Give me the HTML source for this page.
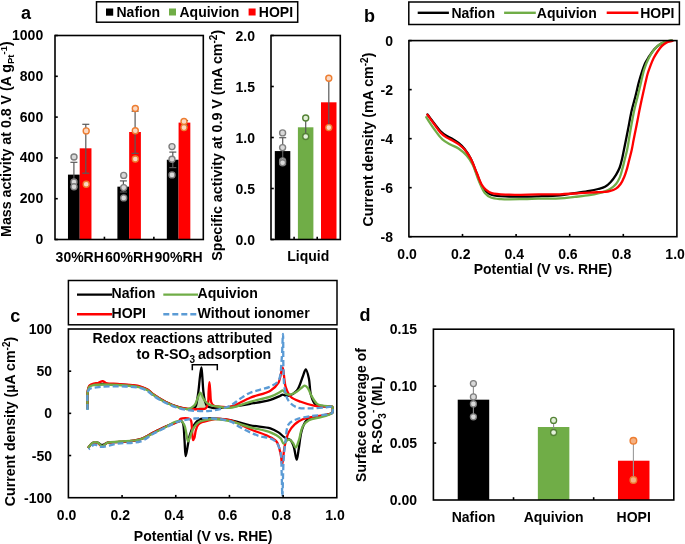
<!DOCTYPE html>
<html><head><meta charset="utf-8"><title>Figure</title><style>
html,body{margin:0;padding:0;background:#fff;width:685px;height:544px;overflow:hidden;}
svg{display:block;will-change:transform;}
text{font-family:"Liberation Sans",sans-serif;font-weight:bold;fill:#000;}
</style></head><body>
<svg width="685" height="544" viewBox="0 0 685 544">
<text x="21" y="18.5" font-size="18" text-anchor="start">a</text>
<rect x="96.5" y="1.8" width="201.2" height="20.4" fill="none" stroke="#000" stroke-width="1.5"/>
<rect x="106" y="8.5" width="7.2" height="7.2" fill="#000" stroke="none" stroke-width="0"/>
<rect x="169" y="8.5" width="7" height="7" fill="#70ad47" stroke="none" stroke-width="0"/>
<rect x="248.6" y="8.5" width="7" height="7" fill="#ff0000" stroke="none" stroke-width="0"/>
<text x="116.5" y="16.8" font-size="14" text-anchor="start">Nafion</text>
<text x="179.5" y="16.8" font-size="14" text-anchor="start">Aquivion</text>
<text x="258.8" y="16.8" font-size="14" text-anchor="start">HOPI</text>
<rect x="67.97" y="174.63" width="11.75" height="64.87" fill="#000" stroke="none" stroke-width="0"/>
<rect x="79.72" y="148.31" width="11.75" height="91.19" fill="#ff0000" stroke="none" stroke-width="0"/>
<rect x="117.4" y="186.66" width="11.75" height="52.84" fill="#000" stroke="none" stroke-width="0"/>
<rect x="129.15" y="131.99" width="11.75" height="107.51" fill="#ff0000" stroke="none" stroke-width="0"/>
<rect x="166.83" y="159.74" width="11.75" height="79.76" fill="#000" stroke="none" stroke-width="0"/>
<rect x="178.58" y="122.61" width="11.75" height="116.89" fill="#ff0000" stroke="none" stroke-width="0"/>
<line x1="73.9" y1="162.3" x2="73.9" y2="187.1" stroke="#595959" stroke-width="1.2"/>
<line x1="70.4" y1="162.3" x2="77.4" y2="162.3" stroke="#595959" stroke-width="1.2"/>
<line x1="70.4" y1="187.1" x2="77.4" y2="187.1" stroke="#595959" stroke-width="1.2"/>
<line x1="85.8" y1="124.3" x2="85.8" y2="173.2" stroke="#595959" stroke-width="1.2"/>
<line x1="82.3" y1="124.3" x2="89.3" y2="124.3" stroke="#595959" stroke-width="1.2"/>
<line x1="82.3" y1="173.2" x2="89.3" y2="173.2" stroke="#595959" stroke-width="1.2"/>
<line x1="123.4" y1="180.9" x2="123.4" y2="192" stroke="#595959" stroke-width="1.2"/>
<line x1="119.9" y1="180.9" x2="126.9" y2="180.9" stroke="#595959" stroke-width="1.2"/>
<line x1="119.9" y1="192" x2="126.9" y2="192" stroke="#595959" stroke-width="1.2"/>
<line x1="135.1" y1="111.2" x2="135.1" y2="153.4" stroke="#595959" stroke-width="1.2"/>
<line x1="131.6" y1="111.2" x2="138.6" y2="111.2" stroke="#595959" stroke-width="1.2"/>
<line x1="131.6" y1="153.4" x2="138.6" y2="153.4" stroke="#595959" stroke-width="1.2"/>
<line x1="172.8" y1="152.1" x2="172.8" y2="167.6" stroke="#595959" stroke-width="1.2"/>
<line x1="169.3" y1="152.1" x2="176.3" y2="152.1" stroke="#595959" stroke-width="1.2"/>
<line x1="169.3" y1="167.6" x2="176.3" y2="167.6" stroke="#595959" stroke-width="1.2"/>
<line x1="184.6" y1="120.6" x2="184.6" y2="125.2" stroke="#595959" stroke-width="1.2"/>
<line x1="181.1" y1="120.6" x2="188.1" y2="120.6" stroke="#595959" stroke-width="1.2"/>
<line x1="181.1" y1="125.2" x2="188.1" y2="125.2" stroke="#595959" stroke-width="1.2"/>
<circle cx="74" cy="157" r="3" fill="#d9d9d9" stroke="#7f7f7f" stroke-width="1.4"/>
<circle cx="74" cy="182" r="3" fill="#d9d9d9" stroke="#7f7f7f" stroke-width="1.4"/>
<circle cx="74" cy="186.8" r="3" fill="#d9d9d9" stroke="#7f7f7f" stroke-width="1.4"/>
<circle cx="123.7" cy="175.4" r="3" fill="#d9d9d9" stroke="#7f7f7f" stroke-width="1.4"/>
<circle cx="123.7" cy="187.6" r="3" fill="#d9d9d9" stroke="#7f7f7f" stroke-width="1.4"/>
<circle cx="123.7" cy="197.9" r="3" fill="#d9d9d9" stroke="#7f7f7f" stroke-width="1.4"/>
<circle cx="172" cy="146.6" r="3" fill="#d9d9d9" stroke="#7f7f7f" stroke-width="1.4"/>
<circle cx="172" cy="159.3" r="3" fill="#d9d9d9" stroke="#7f7f7f" stroke-width="1.4"/>
<circle cx="172" cy="174.9" r="3" fill="#d9d9d9" stroke="#7f7f7f" stroke-width="1.4"/>
<circle cx="86.2" cy="130.9" r="3" fill="#fbd9c3" stroke="#ed7d31" stroke-width="1.4"/>
<circle cx="86.2" cy="184.3" r="3" fill="#fbd9c3" stroke="#ed7d31" stroke-width="1.4"/>
<circle cx="135.3" cy="108.5" r="3" fill="#fbd9c3" stroke="#ed7d31" stroke-width="1.4"/>
<circle cx="135.3" cy="130.7" r="3" fill="#fbd9c3" stroke="#ed7d31" stroke-width="1.4"/>
<circle cx="135.3" cy="159" r="3" fill="#fbd9c3" stroke="#ed7d31" stroke-width="1.4"/>
<circle cx="184" cy="121.5" r="3" fill="#fbd9c3" stroke="#ed7d31" stroke-width="1.4"/>
<circle cx="184" cy="127.6" r="3" fill="#fbd9c3" stroke="#ed7d31" stroke-width="1.4"/>
<rect x="55" y="35.5" width="148.3" height="204" fill="none" stroke="#000" stroke-width="1.6"/>
<line x1="55" y1="239.5" x2="57.8" y2="239.5" stroke="#000" stroke-width="1.6"/>
<text x="43.2" y="244" font-size="14" text-anchor="end">0</text>
<line x1="55" y1="198.7" x2="57.8" y2="198.7" stroke="#000" stroke-width="1.6"/>
<text x="43.2" y="203.2" font-size="14" text-anchor="end">200</text>
<line x1="55" y1="157.9" x2="57.8" y2="157.9" stroke="#000" stroke-width="1.6"/>
<text x="43.2" y="162.4" font-size="14" text-anchor="end">400</text>
<line x1="55" y1="117.1" x2="57.8" y2="117.1" stroke="#000" stroke-width="1.6"/>
<text x="43.2" y="121.6" font-size="14" text-anchor="end">600</text>
<line x1="55" y1="76.3" x2="57.8" y2="76.3" stroke="#000" stroke-width="1.6"/>
<text x="43.2" y="80.8" font-size="14" text-anchor="end">800</text>
<line x1="55" y1="35.5" x2="57.8" y2="35.5" stroke="#000" stroke-width="1.6"/>
<text x="43.2" y="40" font-size="14" text-anchor="end">1000</text>
<line x1="104.43" y1="239.5" x2="104.43" y2="236.7" stroke="#000" stroke-width="1.6"/>
<line x1="153.87" y1="239.5" x2="153.87" y2="236.7" stroke="#000" stroke-width="1.6"/>
<text x="79.72" y="262" font-size="14" text-anchor="middle">30%RH</text>
<text x="129.15" y="262" font-size="14" text-anchor="middle">60%RH</text>
<text x="178.58" y="262" font-size="14" text-anchor="middle">90%RH</text>
<text transform="translate(11.3,139.1) rotate(-90)" font-size="14.2" text-anchor="middle">Mass activity at 0.8 V (A g<tspan font-size="9.5" dy="3">Pt</tspan><tspan font-size="9.5" dy="-7.5">-1</tspan><tspan dy="4.5">)</tspan></text>
<rect x="274.8" y="151.07" width="15.5" height="88.43" fill="#000" stroke="none" stroke-width="0"/>
<rect x="297.9" y="127.3" width="15.5" height="112.2" fill="#70ad47" stroke="none" stroke-width="0"/>
<rect x="321" y="102.31" width="15.5" height="137.19" fill="#ff0000" stroke="none" stroke-width="0"/>
<line x1="282.7" y1="137.7" x2="282.7" y2="164.5" stroke="#595959" stroke-width="1.2"/>
<line x1="279.2" y1="137.7" x2="286.2" y2="137.7" stroke="#595959" stroke-width="1.2"/>
<line x1="279.2" y1="164.5" x2="286.2" y2="164.5" stroke="#595959" stroke-width="1.2"/>
<line x1="305.7" y1="118" x2="305.7" y2="136.5" stroke="#595959" stroke-width="1.2"/>
<line x1="328.8" y1="78.2" x2="328.8" y2="127.6" stroke="#595959" stroke-width="1.2"/>
<circle cx="282.6" cy="132.9" r="3" fill="#d9d9d9" stroke="#7f7f7f" stroke-width="1.4"/>
<circle cx="282.6" cy="147.6" r="3" fill="#d9d9d9" stroke="#7f7f7f" stroke-width="1.4"/>
<circle cx="282.6" cy="160.9" r="3" fill="#d9d9d9" stroke="#7f7f7f" stroke-width="1.4"/>
<circle cx="282.6" cy="162.8" r="3" fill="#d9d9d9" stroke="#7f7f7f" stroke-width="1.4"/>
<circle cx="305.7" cy="118" r="3" fill="#e2f0d9" stroke="#548235" stroke-width="1.4"/>
<circle cx="305.7" cy="136.5" r="3" fill="#e2f0d9" stroke="#548235" stroke-width="1.4"/>
<circle cx="328.8" cy="78.2" r="3" fill="#fbd9c3" stroke="#ed7d31" stroke-width="1.4"/>
<circle cx="328.8" cy="127.6" r="3" fill="#fbd9c3" stroke="#ed7d31" stroke-width="1.4"/>
<rect x="271" y="35.5" width="69.3" height="204" fill="none" stroke="#000" stroke-width="1.6"/>
<line x1="271" y1="239.5" x2="273.8" y2="239.5" stroke="#000" stroke-width="1.6"/>
<text x="255" y="244.5" font-size="14" text-anchor="end">0.0</text>
<line x1="271" y1="188.5" x2="273.8" y2="188.5" stroke="#000" stroke-width="1.6"/>
<text x="255" y="193.5" font-size="14" text-anchor="end">0.5</text>
<line x1="271" y1="137.5" x2="273.8" y2="137.5" stroke="#000" stroke-width="1.6"/>
<text x="255" y="142.5" font-size="14" text-anchor="end">1.0</text>
<line x1="271" y1="86.5" x2="273.8" y2="86.5" stroke="#000" stroke-width="1.6"/>
<text x="255" y="91.5" font-size="14" text-anchor="end">1.5</text>
<line x1="271" y1="35.5" x2="273.8" y2="35.5" stroke="#000" stroke-width="1.6"/>
<text x="255" y="40.5" font-size="14" text-anchor="end">2.0</text>
<line x1="294.1" y1="239.5" x2="294.1" y2="236.7" stroke="#000" stroke-width="1.6"/>
<line x1="317.2" y1="239.5" x2="317.2" y2="236.7" stroke="#000" stroke-width="1.6"/>
<text x="308.3" y="261" font-size="14" text-anchor="middle">Liquid</text>
<text transform="translate(222,145.3) rotate(-90)" font-size="14.25" text-anchor="middle">Specific activity at 0.9 V (mA cm<tspan font-size="10" dy="-5.5">-2</tspan><tspan dy="5.5">)</tspan></text>
<text x="364" y="22" font-size="18" text-anchor="start">b</text>
<rect x="408.8" y="2" width="270.6" height="22.5" fill="none" stroke="#000" stroke-width="1.5"/>
<line x1="417.7" y1="12.8" x2="448.9" y2="12.8" stroke="#000" stroke-width="2.4"/>
<text x="451.4" y="17.6" font-size="14" text-anchor="start">Nafion</text>
<line x1="504.1" y1="12.8" x2="535.8" y2="12.8" stroke="#70ad47" stroke-width="2.4"/>
<text x="536.8" y="17.6" font-size="14" text-anchor="start">Aquivion</text>
<line x1="606.7" y1="12.8" x2="638.4" y2="12.8" stroke="#ff0000" stroke-width="2.4"/>
<text x="640.2" y="17.6" font-size="14" text-anchor="start">HOPI</text>
<path d="M427.5,114.5 C429.77,117.5 432.08,120.65 434.3,123.5 C436.34,126.13 438.16,128.88 440.3,131 C442.22,132.91 444.3,134.44 446.4,135.8 C448.38,137.08 450.51,137.82 452.5,139 C454.54,140.21 456.56,141.43 458.5,143 C460.61,144.71 462.69,146.64 464.6,149 C466.8,151.72 468.83,154.95 470.7,158.6 C472.93,162.93 474.78,168.75 476.7,173.5 C478.46,177.85 479.95,182.77 481.8,186 C483.12,188.31 484.3,190 486,191.5 C487.7,193 489.36,194.16 492,195 C496.15,196.32 502.71,196.24 509.2,196.5 C517.65,196.84 529.4,196.52 538.4,196.3 C546.14,196.11 553.51,196.02 560,195.4 C565.39,194.89 569.8,193.93 574.7,193.2 C579.6,192.47 585.14,191.8 589.4,191 C592.72,190.38 595.47,189.75 598.2,189 C600.63,188.33 602.95,187.93 605,186.8 C607.05,185.67 608.77,184.03 610.5,182.2 C612.46,180.12 614.44,177.33 616,174.8 C617.47,172.42 618.71,170.06 619.7,167.5 C620.72,164.87 621.31,162.05 622,159.2 C622.72,156.22 623.16,153.66 623.9,150 C624.99,144.61 626.58,136.67 627.9,130 C629.22,123.33 630.41,116.05 631.8,110 C632.97,104.9 634.32,100.64 635.5,96 C636.66,91.44 637.64,86.69 638.8,82.4 C639.85,78.5 640.92,74.76 642.1,71.3 C643.17,68.17 644.26,65.04 645.5,62.5 C646.53,60.4 647.52,58.97 648.8,57 C650.36,54.6 652.22,51.46 654.3,49.2 C656.28,47.06 658.48,45.07 660.9,43.7 C663.26,42.36 666.53,41.45 668.6,41 C669.94,40.71 670.87,40.8 672,40.7" fill="none" stroke="#000" stroke-width="2.3" stroke-linejoin="round" stroke-linecap="round"/>
<path d="M426.2,117.2 C428.9,121.23 431.52,125.5 434.3,129.3 C436.93,132.88 439.48,136.78 442.4,139.4 C444.9,141.65 447.68,142.97 450.4,144.5 C453.05,145.99 455.91,146.77 458.5,148.5 C461.33,150.39 464.24,152.91 466.6,155.6 C468.98,158.31 470.85,161.11 472.7,164.7 C475.02,169.22 476.64,175.94 478.8,180.9 C480.7,185.28 482.39,190.13 484.8,193 C486.6,195.15 488.47,196.48 490.9,197.5 C493.73,198.68 496.94,198.78 501,199.1 C507.06,199.58 517.04,199.22 523.8,199.1 C529.21,199.01 533.06,198.72 538.4,198.6 C544.9,198.46 553.5,198.76 560,198.4 C565.38,198.1 569.8,197.43 574.7,196.9 C579.6,196.37 585.03,195.91 589.4,195.2 C592.95,194.63 596.19,193.91 599,193.2 C601.25,192.63 603.07,192.14 605,191.4 C606.9,190.67 608.74,189.95 610.5,188.8 C612.42,187.54 614.47,185.86 616,184 C617.54,182.13 618.66,179.99 619.7,177.6 C620.89,174.87 621.65,171.48 622.5,168.4 C623.35,165.34 624.03,162.27 624.8,159.2 C625.57,156.13 626.33,153.67 627.1,150 C628.23,144.63 629.3,136.66 630.5,130 C631.7,123.33 632.97,116.06 634.3,110 C635.42,104.9 636.67,100.64 637.8,96 C638.91,91.44 639.91,86.9 641,82.4 C642.08,77.94 643,73.17 644.3,69.1 C645.45,65.52 646.67,62.29 648.2,59.2 C649.66,56.25 651.24,53.4 653.2,50.9 C655.12,48.44 657.25,45.98 659.8,44.3 C662.37,42.61 666.32,41.31 668.6,40.8 C669.97,40.5 670.87,40.67 672,40.6" fill="none" stroke="#70ad47" stroke-width="2.3" stroke-linejoin="round" stroke-linecap="round"/>
<path d="M427.5,114.8 C429.77,117.97 432.09,121.27 434.3,124.3 C436.35,127.12 438.14,130.13 440.3,132.4 C442.21,134.41 444.29,136.04 446.4,137.4 C448.36,138.66 450.5,139.3 452.5,140.4 C454.54,141.52 456.55,142.65 458.5,144.1 C460.59,145.65 462.7,147.32 464.6,149.5 C466.81,152.03 468.83,155.13 470.7,158.6 C472.92,162.72 474.78,168.26 476.7,172.8 C478.47,176.99 479.95,181.9 481.8,184.9 C483.07,186.95 484.21,188.24 485.8,189.6 C487.48,191.04 489.08,192.34 491.7,193.2 C495.88,194.57 502.62,194.45 509.2,194.7 C517.69,195.02 529.4,194.47 538.4,194.4 C546.14,194.34 553.49,194.49 560,194.3 C565.37,194.14 569.8,193.78 574.7,193.5 C579.6,193.22 585.15,192.83 589.4,192.6 C592.65,192.43 595.28,192.32 598,192.2 C600.45,192.09 602.92,192.1 605,191.9 C606.7,191.73 607.97,191.65 609.6,191.2 C611.59,190.65 614.15,189.83 616,188.6 C617.8,187.41 619.27,185.83 620.6,184 C622.09,181.94 623.23,179.25 624.3,176.7 C625.41,174.06 626.26,171.26 627.1,168.4 C627.97,165.43 628.63,162.27 629.4,159.2 C630.17,156.13 631.01,153.14 631.7,150 C632.42,146.75 632.95,143.33 633.6,140 C634.25,136.67 634.93,133.33 635.6,130 C636.27,126.67 636.95,123.33 637.6,120 C638.25,116.67 638.83,113.33 639.5,110 C640.17,106.66 640.88,103.33 641.6,100 C642.32,96.66 643.1,93.15 643.8,90 C644.43,87.18 644.96,84.7 645.6,82 C646.26,79.21 646.88,76.24 647.7,73.5 C648.49,70.85 649.41,68.35 650.4,65.8 C651.41,63.22 652.47,60.53 653.7,58.1 C654.88,55.78 656.19,53.57 657.6,51.5 C658.96,49.51 660.43,47.44 662,45.9 C663.38,44.55 664.72,43.41 666.4,42.6 C668.19,41.73 670.47,41.53 672.5,41" fill="none" stroke="#ff0000" stroke-width="2.3" stroke-linejoin="round" stroke-linecap="round"/>
<rect x="408.9" y="40.6" width="268" height="196.1" fill="none" stroke="#000" stroke-width="1.6"/>
<line x1="408.9" y1="40.6" x2="411.7" y2="40.6" stroke="#000" stroke-width="1.6"/>
<text x="393" y="45.6" font-size="14" text-anchor="end">0</text>
<line x1="408.9" y1="89.62" x2="411.7" y2="89.62" stroke="#000" stroke-width="1.6"/>
<text x="393" y="94.62" font-size="14" text-anchor="end">-2</text>
<line x1="408.9" y1="138.65" x2="411.7" y2="138.65" stroke="#000" stroke-width="1.6"/>
<text x="393" y="143.65" font-size="14" text-anchor="end">-4</text>
<line x1="408.9" y1="187.67" x2="411.7" y2="187.67" stroke="#000" stroke-width="1.6"/>
<text x="393" y="192.67" font-size="14" text-anchor="end">-6</text>
<line x1="408.9" y1="236.7" x2="411.7" y2="236.7" stroke="#000" stroke-width="1.6"/>
<text x="393" y="241.7" font-size="14" text-anchor="end">-8</text>
<text x="407.1" y="259" font-size="14" text-anchor="middle">0.0</text>
<line x1="462.5" y1="236.7" x2="462.5" y2="233.9" stroke="#000" stroke-width="1.6"/>
<text x="460.7" y="259" font-size="14" text-anchor="middle">0.2</text>
<line x1="516.1" y1="236.7" x2="516.1" y2="233.9" stroke="#000" stroke-width="1.6"/>
<text x="514.3" y="259" font-size="14" text-anchor="middle">0.4</text>
<line x1="569.7" y1="236.7" x2="569.7" y2="233.9" stroke="#000" stroke-width="1.6"/>
<text x="567.9" y="259" font-size="14" text-anchor="middle">0.6</text>
<line x1="623.3" y1="236.7" x2="623.3" y2="233.9" stroke="#000" stroke-width="1.6"/>
<text x="621.5" y="259" font-size="14" text-anchor="middle">0.8</text>
<text x="675.1" y="259" font-size="14" text-anchor="middle">1.0</text>
<text x="542.9" y="274" font-size="14" text-anchor="middle">Potential (V vs. RHE)</text>
<text transform="translate(373.4,139.6) rotate(-90)" font-size="14.2" text-anchor="middle">Current density (mA cm<tspan font-size="10" dy="-5.5">-2</tspan><tspan dy="5.5">)</tspan></text>
<text x="10.2" y="322.2" font-size="18" text-anchor="start">c</text>
<rect x="68.4" y="280.5" width="268.6" height="44.3" fill="none" stroke="#000" stroke-width="1.5"/>
<line x1="77" y1="294.6" x2="112" y2="294.6" stroke="#000" stroke-width="2.4"/>
<text x="111.5" y="298" font-size="14.1" text-anchor="start">Nafion</text>
<line x1="163.3" y1="294.6" x2="198" y2="294.6" stroke="#70ad47" stroke-width="2.4"/>
<text x="197.5" y="298" font-size="14.1" text-anchor="start">Aquivion</text>
<line x1="77" y1="314.2" x2="112" y2="314.2" stroke="#ff0000" stroke-width="2.4"/>
<text x="111.5" y="317.6" font-size="14.1" text-anchor="start">HOPI</text>
<line x1="163.3" y1="314.2" x2="198" y2="314.2" stroke="#5b9bd5" stroke-width="2.4" stroke-dasharray="6,3"/>
<text x="197.5" y="317.6" font-size="14.15" text-anchor="start">Without ionomer</text>
<path d="M194.7,405 L197.6,398.3 L200.4,393.5 L203.3,398.3 L207.1,403.1 L207.5,408 L194.5,408 Z" fill="#c5e0b4"/>
<path d="M87.5,409 C87.6,403.33 87.18,396.19 87.8,392 C88.18,389.46 88.34,387.24 89.5,386 C90.48,384.95 91.68,384.85 93.7,384.5 C98.37,383.69 109.71,384.07 117.6,384.5 C125.38,384.92 135.23,385.61 140.7,387 C143.89,387.81 145.9,388.7 148,390 C149.91,391.18 150.79,392.76 152.9,394.3 C156.1,396.63 161.41,399.82 165.8,402 C170.02,404.09 174.34,406 178.7,407.2 C182.91,408.36 188.5,409.85 191.5,409.2 C193.35,408.8 194.67,407.83 195.6,406.5 C196.67,404.97 196.65,402.53 197.1,400.2 C197.64,397.37 198.06,394.2 198.5,390.7 C199.04,386.4 199.45,380.53 200,376.3 C200.44,372.94 201.02,367.29 201.4,367.3 C201.78,367.31 202.02,372.95 202.3,376.3 C202.66,380.54 202.84,386.41 203.3,390.7 C203.68,394.2 203.94,397.46 204.7,400.2 C205.31,402.41 205.78,404.73 207.1,406 C208.3,407.15 210.13,407.44 212,407.8 C214.31,408.24 217.19,408.13 220,408 C223.15,407.85 226.09,407.32 230,406.8 C235.57,406.05 243.48,404.96 250.2,403.8 C256.95,402.63 264.96,401.4 270.4,399.8 C274.25,398.67 277.82,396.97 280,396 C281.15,395.48 281.74,394.76 282.6,394.7 C283.4,394.64 284.11,395.33 285,395.5 C286.07,395.7 287.22,396.05 288.6,395.7 C290.84,395.13 294.49,393.27 296.7,390.7 C299.52,387.43 301.13,380.42 302.8,376.5 C303.98,373.73 304.84,369.37 305.8,369.4 C306.88,369.44 308.09,374.98 308.9,378.5 C309.95,383.08 309.65,390.15 310.9,394.7 C311.88,398.25 312.81,401.94 314.9,403.8 C316.7,405.41 319.62,405.57 322,406 C324.32,406.42 327.1,406.23 329,406.4 C330.31,406.52 331.68,406.22 332.3,406.8 C332.86,407.33 332.78,408.55 332.8,409.5 C332.82,410.54 332.91,412.02 332.3,412.8 C331.67,413.61 330.47,413.71 329,414.2 C326.27,415.11 320.83,416.16 317,417.2 C313.45,418.16 309.32,418.08 306.8,420.2 C304.2,422.38 303.08,426.33 301.8,430.3 C300.16,435.38 299.74,443.17 298.8,448.5 C298.06,452.69 297.5,459.68 296.7,459.7 C295.82,459.72 294.94,450 293.7,446.5 C292.82,444.02 292.22,441.92 290.7,440.4 C289.18,438.88 286.56,438.66 284.6,437.4 C282.49,436.04 280.77,433.88 278.5,432.4 C276.07,430.82 273.82,429.39 270.4,428.3 C265.28,426.67 256.9,426.64 250.2,425.3 C243.43,423.95 236.76,421.33 230,420.2 C223.36,419.09 215.39,418.61 210,418.5 C206.35,418.42 203.09,418.18 200.8,418.9 C199.24,419.39 198.33,420.19 197.2,421.2 C195.87,422.39 194.61,423.9 193.5,425.8 C192.06,428.26 190.72,431.89 189.8,435 C188.9,438.02 188.63,440.93 188,444.2 C187.28,447.93 186.27,456.23 185.7,456.2 C185.04,456.16 184.96,445.46 184.5,440 C184.03,434.4 184.14,425.91 182.9,423 C182.39,421.8 181.75,421.03 181,420.8 C180.33,420.59 179.76,421.05 178.7,421.4 C176.13,422.24 170.06,424.6 165.8,426.5 C161.46,428.43 157.2,430.75 152.9,432.9 C148.6,435.05 144.94,437.9 140,439.4 C134.09,441.19 125.4,441.34 119.5,441.9 C115.03,442.32 110.9,441.98 107.7,442.7 C105.38,443.23 103.64,445.12 101.9,445 C100.39,444.9 99.29,443.09 97.8,442.7 C96.26,442.3 94.32,442.03 92.8,442.7 C90.99,443.5 89.6,446.23 88,448" fill="none" stroke="#000" stroke-width="2.3" stroke-linejoin="round" stroke-linecap="butt"/>
<path d="M87.5,409 C87.6,402.67 87.02,394.1 87.8,390 C88.19,387.94 88.5,386.59 89.5,385.5 C90.48,384.43 92.26,383.92 93.7,383.5 C95.09,383.1 96.56,383.35 98,383 C99.56,382.62 101.29,381.11 102.7,381.2 C103.92,381.28 104.5,382.55 106,383 C108.64,383.79 113.67,383.67 117.6,384 C121.66,384.34 126.03,384.56 130,385 C133.7,385.41 137.53,385.58 140.7,386.5 C143.43,387.29 145.89,388.46 148,389.8 C149.89,391 150.8,392.47 152.9,394 C156.11,396.35 161.4,399.77 165.8,402 C170.01,404.13 174.34,406 178.7,407.2 C182.91,408.36 187.66,408.95 191.5,409.2 C194.61,409.4 197.48,409.14 200,409 C202.03,408.88 204.19,409.34 205.5,408.5 C206.7,407.73 207.26,406.28 207.8,404.5 C208.69,401.56 208.32,395.92 208.6,392 C208.85,388.51 209.12,382.1 209.4,382.1 C209.68,382.1 210,388.68 210.3,392 C210.6,395.37 210.33,399.81 211.2,402.2 C211.74,403.7 212.43,404.78 213.5,405.5 C214.65,406.27 216.13,406.27 218,406.5 C221.02,406.87 225.59,407.69 230,406.8 C235.99,405.59 243.41,400.4 250.2,397.7 C256.87,395.05 265.42,393.82 270.4,390.7 C274.04,388.42 276.51,386.05 278.5,382.6 C280.84,378.56 281.45,367.34 282.6,367.4 C283.87,367.47 283.9,381.33 285.6,386.6 C286.89,390.62 288.17,394.17 290.7,396.7 C293.23,399.23 297.08,400.35 300.8,401.8 C305.04,403.45 310.16,405.02 314.9,405.8 C319.56,406.57 325.94,406.28 329,406.5 C330.48,406.6 331.68,406.23 332.3,406.8 C332.86,407.31 332.78,408.55 332.8,409.5 C332.82,410.54 332.91,412.02 332.3,412.8 C331.67,413.61 330.48,413.77 329,414.2 C326.28,414.99 321.16,415.41 317,416.2 C312.46,417.06 306.76,417.6 302.8,419.2 C299.59,420.5 297.04,422.15 294.7,424.3 C292.29,426.52 290.21,429.15 288.6,432.4 C286.66,436.31 285.64,441.46 284.6,446.5 C283.43,452.14 282.91,464.7 282.2,464.7 C281.68,464.7 281.6,458.46 280.8,455 C279.84,450.83 279.11,444.81 276.5,441.5 C274.12,438.48 270.26,437.27 266.4,435.4 C261.72,433.13 255.86,431.64 250.2,429.3 C243.8,426.66 236.37,421.84 230,420.2 C224.75,418.85 219.34,418.65 215,419 C211.59,419.27 208.44,420.64 206,421.2 C204.34,421.58 203.1,421.51 201.8,422.1 C200.45,422.72 199.07,423.65 198.1,424.9 C197,426.32 196.4,428.4 195.8,430.4 C195.12,432.65 195.06,436.07 194.4,437.8 C194,438.83 193.36,440.18 193,440.1 C192.31,439.94 192.4,433.59 192.1,430.4 C191.8,427.29 191.87,423.2 191.2,421.2 C190.84,420.12 190.69,419.4 189.8,418.9 C188.16,417.98 182.42,418 180.6,418.9 C179.54,419.43 179.79,420.57 178.7,421.4 C176.41,423.13 170.06,424.6 165.8,426.5 C161.46,428.43 157.2,430.75 152.9,432.9 C148.6,435.05 144.94,437.9 140,439.4 C134.09,441.19 125.4,441.34 119.5,441.9 C115.03,442.32 110.84,441.65 107.7,442.7 C105.3,443.51 103.63,446.61 101.9,446.5 C100.37,446.4 99.35,443.57 97.8,443 C96.31,442.45 94.33,442.35 92.8,443 C91,443.77 89.6,446.33 88,448" fill="none" stroke="#ff0000" stroke-width="2.3" stroke-linejoin="round" stroke-linecap="butt"/>
<path d="M87.5,410 C87.6,403.67 87.02,395.1 87.8,391 C88.19,388.94 88.48,387.5 89.5,386.5 C90.48,385.54 91.68,385.35 93.7,385 C98.37,384.19 109.71,384.57 117.6,385 C125.38,385.42 135.23,386.11 140.7,387.5 C143.89,388.31 145.89,389.24 148,390.5 C149.89,391.63 150.82,393.01 152.9,394.5 C156.12,396.8 161.4,400.3 165.8,402.5 C170,404.6 174.7,406.41 178.7,407.5 C182,408.4 185.8,409.22 188,409 C189.26,408.87 189.91,408.45 190.9,407.9 C192.13,407.22 193.65,406.34 194.7,405 C196,403.34 196.62,400.43 197.6,398.3 C198.52,396.31 199.45,392.61 200.4,392.6 C201.35,392.59 202.17,396.53 203.3,398.3 C204.41,400.03 205.6,401.89 207.1,403.1 C208.5,404.24 210.16,404.94 211.9,405.5 C213.77,406.11 215.62,406.17 218,406.5 C221.33,406.97 225.53,408.3 230,407.9 C235.91,407.38 243.45,403.67 250.2,401.8 C256.91,399.94 264.99,398.68 270.4,396.7 C274.28,395.28 277.83,393.23 280,392 C281.17,391.34 281.78,390.23 282.6,390.3 C283.44,390.37 284.08,391.81 285,392.5 C286.05,393.29 287.12,394.56 288.6,394.7 C290.72,394.91 294.37,393.01 296.7,391.7 C298.76,390.54 300.5,388.6 302,387.5 C303.06,386.72 303.86,385.56 304.8,385.6 C305.8,385.64 306.91,386.86 307.8,388 C309.04,389.58 309.58,392.35 310.9,394.7 C312.51,397.56 314.75,402.08 317,403.8 C318.56,405 320.17,405.09 322,405.5 C324.11,405.97 327.1,406.11 329,406.3 C330.3,406.43 331.68,406.02 332.3,406.6 C332.89,407.14 332.79,408.49 332.8,409.5 C332.82,410.61 332.92,412.15 332.3,413 C331.67,413.86 330.36,414.05 329,414.6 C326.94,415.43 323.96,416.35 321,417.2 C317.4,418.23 312.07,418.41 308.9,420.2 C306.27,421.69 304.39,423.58 302.8,426.3 C300.72,429.84 300.18,436.54 298.8,440.4 C297.79,443.21 296.8,447.43 295.7,447.5 C294.75,447.56 293.93,443.87 292.7,442.5 C291.54,441.21 290.02,439.37 288.6,439.4 C287,439.43 284.95,443.74 283.6,443.5 C282.31,443.27 282.18,439.98 280.6,438.4 C278.36,436.16 274.52,434.09 270.4,432.4 C264.93,430.16 256.91,429.16 250.2,427.3 C243.45,425.43 236.28,422.6 230,421.2 C224.68,420.01 219.37,419.12 215,419 C211.63,418.9 208.78,419.23 206,419.8 C203.49,420.32 200.97,420.89 199,422.1 C197.15,423.24 195.64,424.99 194.4,426.7 C193.19,428.37 192.37,430.33 191.6,432.2 C190.85,434.03 190.47,436.16 189.8,437.8 C189.25,439.16 188.53,441.47 188,441.4 C187.2,441.29 186.75,435.08 186.1,432.2 C185.52,429.62 185.23,426.85 184.3,424.9 C183.57,423.37 182.79,421.77 181.5,421.2 C180.09,420.58 178.05,421.1 176,421.7 C173.05,422.57 169.41,425.16 165.8,427 C161.76,429.07 157.22,431.41 152.9,433.5 C148.62,435.57 144.93,438.16 140,439.5 C134.07,441.12 125.4,440.91 119.5,441.5 C115.03,441.95 110.86,441.69 107.7,442.7 C105.33,443.46 103.62,446.14 101.9,446 C100.37,445.88 99.34,443.24 97.8,442.7 C96.3,442.17 94.32,442.03 92.8,442.7 C90.99,443.5 89.6,446.23 88,448" fill="none" stroke="#70ad47" stroke-width="2.3" stroke-linejoin="round" stroke-linecap="butt"/>
<path d="M87.5,410 C87.6,404 86.87,395.42 87.8,392 C88.21,390.51 88.4,389.78 89.5,389 C91.53,387.56 96.41,387.35 101,386.9 C107.69,386.24 118.68,386.15 125.9,386.5 C131.48,386.77 136.7,387.09 140.7,388.2 C143.63,389.01 145.88,390.19 148,391.5 C149.88,392.67 150.81,394.05 152.9,395.5 C156.12,397.73 161.42,400.86 165.8,403 C170.03,405.07 174.34,406.94 178.7,408.2 C182.91,409.41 186.82,410.04 191.5,410.5 C197.08,411.04 203.76,411.52 210,410.8 C216.59,410.04 224.63,408.23 230,405.8 C234.14,403.92 236.7,401 240.1,398.8 C243.43,396.64 246.73,394.23 250.2,392.7 C253.48,391.25 256.94,390.72 260.3,389.7 C263.67,388.68 267.34,388.15 270.4,386.6 C273.39,385.09 276.61,383.73 278.5,380.6 C281.19,376.13 280.86,367.52 281.6,360.3 C282.44,352.12 282.57,333.99 283,334 C283.62,334.01 282.57,377.01 284.6,388.6 C285.58,394.22 286.39,397.61 288.6,400.8 C290.59,403.67 293.38,406 296.7,407.3 C300.59,408.82 306.17,408.27 310.9,408.3 C315.61,408.33 321.61,407.86 325,407.5 C326.92,407.3 328.17,406.86 329.5,406.8 C330.54,406.76 331.76,406.52 332.3,407 C332.82,407.46 332.78,408.61 332.8,409.5 C332.82,410.52 332.91,412.05 332.3,412.8 C331.68,413.56 330.63,413.63 329.1,414 C325.55,414.87 316.57,415.26 310.9,416.2 C305.85,417.04 300.66,417.6 296.7,419.2 C293.49,420.5 290.46,421.56 288.6,424.3 C286.17,427.89 286.41,434.7 285.6,440.4 C284.7,446.76 284.11,452.95 283.6,460.7 C282.92,471.04 282.75,497 282.4,497 C282.1,497 281.94,478.74 281.6,470.8 C281.32,464.18 281.74,457.7 280.6,452.6 C279.72,448.66 278.48,444.93 276.5,442.5 C274.88,440.5 272.8,439.4 270.4,438.4 C267.55,437.22 263.62,437.38 260.3,436.4 C256.89,435.4 253.53,433.9 250.2,432.4 C246.8,430.87 243.43,429.14 240.1,427.3 C236.7,425.42 234.11,422.67 230,421.2 C224.61,419.27 216.2,418.71 210,418.3 C204.66,417.95 200.08,418 195,418.5 C189.66,419.02 183.72,419.9 178.7,421.5 C174.05,422.98 170.08,425.43 165.8,427.5 C161.48,429.59 157.1,431.68 152.9,434 C148.73,436.31 145.63,439.76 140.7,441.4 C134.41,443.49 124.64,442.57 117.6,443.6 C111.59,444.48 105.25,447.17 101,446.9 C98.27,446.73 96.43,444.33 94.4,444.7 C92.32,445.08 90.6,447.77 88.7,449.3" fill="none" stroke="#5b9bd5" stroke-width="2.3" stroke-linejoin="round" stroke-linecap="butt" stroke-dasharray="6,3"/>
<rect x="68.4" y="329" width="268.4" height="168.7" fill="none" stroke="#000" stroke-width="1.6"/>
<text x="52" y="334" font-size="14" text-anchor="end">100</text>
<line x1="68.4" y1="371.18" x2="71.2" y2="371.18" stroke="#000" stroke-width="1.6"/>
<text x="52" y="376.18" font-size="14" text-anchor="end">50</text>
<line x1="68.4" y1="413.35" x2="71.2" y2="413.35" stroke="#000" stroke-width="1.6"/>
<text x="52" y="418.35" font-size="14" text-anchor="end">0</text>
<line x1="68.4" y1="455.53" x2="71.2" y2="455.53" stroke="#000" stroke-width="1.6"/>
<text x="52" y="460.53" font-size="14" text-anchor="end">-50</text>
<text x="52" y="502.7" font-size="14" text-anchor="end">-100</text>
<text x="66.6" y="519.5" font-size="14" text-anchor="middle">0.0</text>
<line x1="122.08" y1="497.7" x2="122.08" y2="494.9" stroke="#000" stroke-width="1.6"/>
<text x="120.28" y="519.5" font-size="14" text-anchor="middle">0.2</text>
<line x1="175.76" y1="497.7" x2="175.76" y2="494.9" stroke="#000" stroke-width="1.6"/>
<text x="173.96" y="519.5" font-size="14" text-anchor="middle">0.4</text>
<line x1="229.44" y1="497.7" x2="229.44" y2="494.9" stroke="#000" stroke-width="1.6"/>
<text x="227.64" y="519.5" font-size="14" text-anchor="middle">0.6</text>
<line x1="283.12" y1="497.7" x2="283.12" y2="494.9" stroke="#000" stroke-width="1.6"/>
<text x="281.32" y="519.5" font-size="14" text-anchor="middle">0.8</text>
<text x="335" y="519.5" font-size="14" text-anchor="middle">1.0</text>
<text x="203.1" y="541" font-size="14" text-anchor="middle">Potential (V vs. RHE)</text>
<text transform="translate(15.2,421.5) rotate(-90)" font-size="14.2" text-anchor="middle">Current density (µA cm<tspan font-size="10" dy="-5.5">-2</tspan><tspan dy="5.5">)</tspan></text>
<text x="92.6" y="342.7" font-size="14.2" text-anchor="start">Redox reactions attributed</text>
<text x="136.6" y="358.6" font-size="14.2">to R-SO<tspan font-size="10" dy="4.2">3</tspan><tspan dy="-4.2" dx="-1"> adsorption</tspan></text>
<path d="M192.3,370.2 V364.8 H217.3 V370.2" fill="none" stroke="#000" stroke-width="1.5"/>
<text x="359.6" y="321.2" font-size="18" text-anchor="start">d</text>
<rect x="457.72" y="399.68" width="31.5" height="100.32" fill="#000" stroke="none" stroke-width="0"/>
<rect x="537.85" y="427.01" width="31.5" height="72.99" fill="#70ad47" stroke="none" stroke-width="0"/>
<rect x="617.98" y="460.72" width="31.5" height="39.28" fill="#ff0000" stroke="none" stroke-width="0"/>
<line x1="473.4" y1="383.6" x2="473.4" y2="416.8" stroke="#8c8c8c" stroke-width="1.1"/>
<line x1="553.6" y1="420.4" x2="553.6" y2="432.5" stroke="#8c8c8c" stroke-width="1.1"/>
<line x1="633.4" y1="440.8" x2="633.4" y2="479.9" stroke="#9a9a9a" stroke-width="1.1"/>
<circle cx="473.4" cy="383.6" r="3" fill="#d9d9d9" stroke="#7f7f7f" stroke-width="1.3"/>
<circle cx="473.4" cy="396.9" r="3" fill="#d9d9d9" stroke="#7f7f7f" stroke-width="1.3"/>
<circle cx="473.4" cy="403.9" r="3" fill="#d9d9d9" stroke="#7f7f7f" stroke-width="1.3"/>
<circle cx="473.4" cy="416.8" r="3" fill="#d9d9d9" stroke="#7f7f7f" stroke-width="1.3"/>
<circle cx="553.6" cy="420.4" r="3" fill="#e2f0d9" stroke="#548235" stroke-width="1.3"/>
<circle cx="553.6" cy="432.5" r="3" fill="#e2f0d9" stroke="#548235" stroke-width="1.3"/>
<circle cx="633.4" cy="440.8" r="3.3" fill="#f4b183" stroke="#ed7d31" stroke-width="1.4"/>
<circle cx="633.4" cy="479.9" r="3.3" fill="#f4b183" stroke="#ed7d31" stroke-width="1.4"/>
<rect x="433.4" y="329.2" width="240.4" height="170.8" fill="none" stroke="#000" stroke-width="1.6"/>
<text x="417" y="505" font-size="14" text-anchor="end">0.00</text>
<line x1="433.4" y1="443.07" x2="436.2" y2="443.07" stroke="#000" stroke-width="1.6"/>
<text x="417" y="448.07" font-size="14" text-anchor="end">0.05</text>
<line x1="433.4" y1="386.13" x2="436.2" y2="386.13" stroke="#000" stroke-width="1.6"/>
<text x="417" y="391.13" font-size="14" text-anchor="end">0.10</text>
<text x="417" y="334.2" font-size="14" text-anchor="end">0.15</text>
<line x1="513.53" y1="500" x2="513.53" y2="497.2" stroke="#000" stroke-width="1.6"/>
<line x1="593.67" y1="500" x2="593.67" y2="497.2" stroke="#000" stroke-width="1.6"/>
<text x="473.47" y="521.6" font-size="14" text-anchor="middle">Nafion</text>
<text x="553.6" y="521.6" font-size="14" text-anchor="middle">Aquivion</text>
<text x="633.73" y="521.6" font-size="14" text-anchor="middle">HOPI</text>
<text transform="translate(366.2,415) rotate(-90)" font-size="14" text-anchor="middle">Surface coverage of</text>
<text transform="translate(382.4,415) rotate(-90)" font-size="14" text-anchor="middle">R-SO<tspan font-size="10" dy="3.4">3</tspan><tspan font-size="10" dy="-9.9">-</tspan><tspan dy="6.5"> (ML)</tspan></text>
</svg>
</body></html>
